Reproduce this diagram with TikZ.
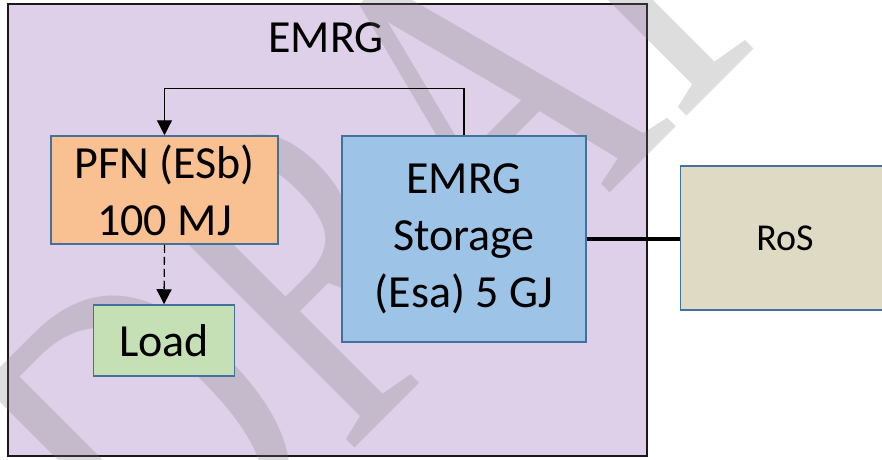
\documentclass[tikz,border=0pt]{standalone}
\usepackage{fontspec}
\setmainfont{Carlito}
\newfontfamily\wmfont{Liberation Serif}
\usetikzlibrary{arrows.meta}
\definecolor{emrgbg}{RGB}{221,208,232}
\definecolor{pfnfill}{RGB}{249,192,145}
\definecolor{storfill}{RGB}{157,195,230}
\definecolor{loadfill}{RGB}{197,224,180}
\definecolor{rosfill}{RGB}{222,218,196}
\definecolor{boxline}{RGB}{65,113,156}
\definecolor{wmgray}{RGB}{117,117,117}
\tikzset{
  inbox/.style={draw=boxline, line width=1.5pt, inner sep=0pt, align=center,
    font=\fontsize{46}{57}\selectfont},
  conn/.style={line width=1.3pt, -{Triangle[width=15pt,length=15pt]}},
}
\begin{document}
\begin{tikzpicture}[x=1pt,y=1pt]
\useasboundingbox (0,0) rectangle (882,459);
\fill[white] (0,0) rectangle (882,459);
\node[draw=black!90, fill=emrgbg, line width=2pt, inner sep=0pt,
  minimum width=639pt, minimum height=452pt] (emrg) at (327.5,229) {};
\node[font=\fontsize{46}{57}\selectfont] (title) at (326,421) {EMRG};
\node[rotate=45, yscale=1.39, anchor=base west, text=wmgray, opacity=0.24, inner sep=0pt,
  font=\wmfont\fontsize{338}{338}\selectfont] (wm) at (173.4,-170.6) {DRAFT};
\node[inbox, fill=pfnfill, minimum width=227pt, minimum height=108pt] (pfn) at (164.5,269) {PFN (ESb)\\100 MJ};
\node[inbox, fill=loadfill, minimum width=141pt, minimum height=71pt] (load) at (164,118.5) {Load};
\node[inbox, fill=storfill, minimum width=244pt, minimum height=206pt] (stor) at (464,220) {EMRG\\Storage\\(Esa) 5 GJ};
\node[inbox, fill=rosfill, minimum width=209pt, minimum height=144pt,
  font=\fontsize{38}{46}\selectfont] (ros) at (785,221) {RoS};
\draw[conn] (stor.north) -- ++(0,47) -| (pfn.north);
\draw[conn, dash pattern=on 8pt off 4pt] (pfn.south) -- (load.north);
\draw[line width=3.5pt] (stor.east) -- (stor.east -| ros.west);
\end{tikzpicture}
\end{document}
